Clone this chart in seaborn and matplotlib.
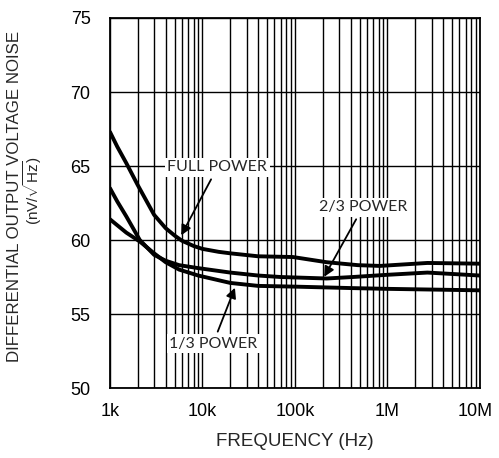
import numpy as np
import pandas as pd
import matplotlib
matplotlib.use("Agg")
import matplotlib.pyplot as plt
import matplotlib.transforms as mtransforms
import seaborn as sns

# ---- data ----
freq_full = [1e3, 1.2e3, 1.5e3, 2e3, 2.5e3, 3e3, 4e3, 5e3, 6e3, 8e3, 1e4, 1.5e4, 2e4,
             4e4, 9.5e4, 2.2e5, 4.8e5, 8.3e5, 2.7e6, 1e7]
noise_full = [67.3, 66.3, 65.2, 63.7, 62.6, 61.7, 60.8, 60.3, 59.95, 59.6, 59.4, 59.2, 59.1,
              58.9, 58.85, 58.5, 58.3, 58.25, 58.45, 58.4]

freq_two_thirds = [1e3, 1.2e3, 1.5e3, 2.1e3, 3e3, 4e3, 5.6e3, 9e3, 2e4, 4e4, 7e4,
                   2.2e5, 4.2e5, 1e6, 2.7e6, 1e7]
noise_two_thirds = [63.5, 62.6, 61.6, 60.0, 59.0, 58.6, 58.3, 58.1, 57.8, 57.6, 57.5,
                    57.4, 57.5, 57.65, 57.8, 57.6]

freq_one_third = [1e3, 1.5e3, 2.1e3, 3e3, 4e3, 5.6e3, 9e3, 2e4, 4e4, 1e5, 4.2e5, 1e6, 1e7]
noise_one_third = [61.4, 60.5, 59.9, 59.1, 58.5, 58.0, 57.6, 57.1, 56.9, 56.85, 56.75, 56.7, 56.6]

series_names = ["FULL POWER", "2/3 POWER", "1/3 POWER"]
x_ticks = [1e3, 1e4, 1e5, 1e6, 1e7]
x_tick_labels = ["1k", "10k", "100k", "1M", "10M"]
y_ticks = [50, 55, 60, 65, 70, 75]

df = pd.concat([
    pd.DataFrame({"freq": freq_full, "noise": noise_full, "series": series_names[0]}),
    pd.DataFrame({"freq": freq_two_thirds, "noise": noise_two_thirds, "series": series_names[1]}),
    pd.DataFrame({"freq": freq_one_third, "noise": noise_one_third, "series": series_names[2]}),
])

sns.set_style("white")
plt.rcParams["font.family"] = ["Liberation Sans", "DejaVu Sans"]
plt.rcParams["mathtext.fontset"] = "custom"
plt.rcParams["mathtext.rm"] = "Liberation Sans"
plt.rcParams["mathtext.it"] = "Liberation Sans"

fig = plt.figure(figsize=(4.99, 4.58), dpi=100)
ax = fig.add_axes([0.2204, 0.1528, 0.7415, 0.8079])

ax.set_xscale("log")
sns.lineplot(data=df, x="freq", y="noise", hue="series",
             palette=["black", "black", "black"], linewidth=2.8,
             legend=False, ax=ax, zorder=3)
for ln in ax.get_lines():
    ln.set_solid_joinstyle("round")
    ln.set_solid_capstyle("round")

ax.set_xlim(1e3, 1e7)
ax.set_ylim(50, 75)
ax.set_xticks(x_ticks)
ax.set_xticklabels(x_tick_labels)
ax.set_yticks(y_ticks)
ax.xaxis.set_minor_locator(matplotlib.ticker.LogLocator(base=10, subs=np.arange(2, 10)))
ax.xaxis.set_minor_formatter(matplotlib.ticker.NullFormatter())
ax.grid(True, which="major", axis="both", color="black", linewidth=1.0, zorder=1)
ax.grid(True, which="minor", axis="x", color="black", linewidth=1.0, zorder=1)
ax.tick_params(axis="both", which="both", length=0, labelsize=13, colors="black")
ax.tick_params(axis="x", pad=11)
ax.tick_params(axis="y", pad=14)
for s in ax.spines.values():
    s.set_color("black")
    s.set_linewidth(1.3)

# nudge the last x tick label inward so it stays inside the figure
last = ax.get_xticklabels()[-1]
last.set_transform(last.get_transform() + mtransforms.ScaledTranslation(-5 / 100, 0, fig.dpi_scale_trans))

ax.set_xlabel("FREQUENCY (Hz)", fontsize=13.5, labelpad=9)
ax.set_ylabel("")
fig.text(0.029, 0.572, "DIFFERENTIAL OUTPUT VOLTAGE NOISE", rotation=90,
         ha="center", va="center", fontsize=12.2)
fig.text(0.066, 0.585, r"(nV/$\sqrt{\mathrm{Hz}}$)", rotation=90,
         ha="center", va="center", fontsize=11)

box = dict(boxstyle="square,pad=0.15", facecolor="white", edgecolor="none")
arrow = dict(arrowstyle="-|>", color="black", lw=1.3, mutation_scale=15)
lab_font = dict(fontsize=11.5, family=["Lato", "DejaVu Sans"], ha="center", va="center",
                bbox=box, zorder=5)

ax.annotate(series_names[0], xy=(5.7e3, 60.15), xytext=(1.45e4, 64.9),
            arrowprops=arrow, **lab_font)
ax.annotate(series_names[1], xy=(2.0e5, 57.35), xytext=(5.4e5, 62.2),
            arrowprops=arrow, **lab_font)
ax.annotate(series_names[2], xy=(2.3e4, 56.95), xytext=(1.3e4, 53.0),
            arrowprops=arrow, **lab_font)

fig.savefig("out.png", dpi=100)
